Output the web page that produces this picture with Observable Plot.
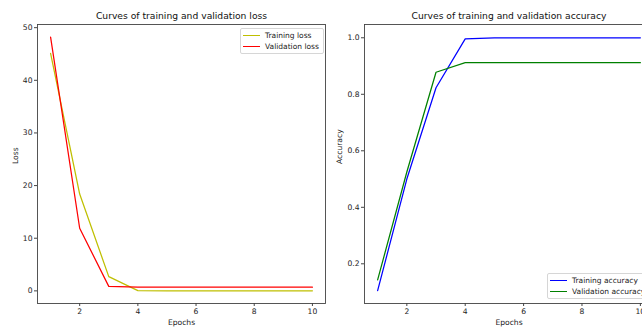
<!DOCTYPE html>
<html>
<head>
<meta charset="utf-8">
<script src="https://cdn.jsdelivr.net/npm/d3@7"></script>
<script src="https://cdn.jsdelivr.net/npm/@observablehq/plot@0.6"></script>
<style>
  html, body { margin: 0; padding: 0; background: #fff; overflow: hidden; }
  #wrap { position: relative; width: 642px; height: 327px; overflow: hidden; font-family: "DejaVu Sans", sans-serif; }
  .panel { position: absolute; top: 0; width: 330px; height: 327px; }
  .panel svg { max-width: none !important; }
  .legend { position: absolute; background: rgba(255,255,255,0.8); border: 1px solid #d6d6d6; border-radius: 2px; font-size: 7.5px; color: #222; padding: 1px 0; white-space: nowrap; }
  .legend .row { display: flex; align-items: center; height: 11px; }
  .legend .sw { width: 17px; height: 0; margin-left: 2px; margin-right: 5px; }
</style>
</head>
<body>
<div id="wrap"></div>
<script>
const epochs = [1, 2, 3, 4, 5, 6, 7, 8, 9, 10];
const trainingLoss = [45.1, 18.4, 2.7, 0.05, 0.02, 0.01, 0.01, 0.01, 0.01, 0.01];
const validationLoss = [48.2, 11.9, 0.85, 0.7, 0.7, 0.7, 0.7, 0.7, 0.7, 0.7];
const trainingAcc = [0.105, 0.5, 0.823, 0.996, 1.0, 1.0, 1.0, 1.0, 1.0, 1.0];
const validationAcc = [0.143, 0.525, 0.878, 0.912, 0.912, 0.912, 0.912, 0.912, 0.912, 0.912];
const xTicks = [2, 4, 6, 8, 10];
const lossTicks = [0, 10, 20, 30, 40, 50];
const accTicks = [0.2, 0.4, 0.6, 0.8, 1.0];

const FONT = "DejaVu Sans";
const wrap = document.getElementById("wrap");

function rows(values, series) {
  return epochs.map((e, i) => ({epoch: e, value: values[i], series}));
}

function panel({left, width, marginLeft, marginRight, yDomain, yTicks, yFormat, series, title, ylabel, ylabelDx, legendPos}) {
  const data = series.flatMap(s => rows(s.values, s.name));
  const plot = Plot.plot({
    width, height: 327,
    marginLeft, marginRight, marginTop: 24, marginBottom: 24,
    style: {fontFamily: FONT, fontSize: "7.6px", color: "#222", background: "transparent", maxWidth: "none"},
    x: {domain: [0.55, 10.45]},
    y: {domain: yDomain},
    marks: [
      Plot.frame({stroke: "#444", strokeWidth: 0.9}),
      Plot.axisX({ticks: xTicks, tickSize: 3, tickPadding: 2, fontSize: 7.6, label: null, stroke: "#444"}),
      Plot.axisY({ticks: yTicks, tickSize: 3, tickPadding: 2, fontSize: 7.6, label: null, tickFormat: yFormat, stroke: "#444"}),
      ...series.map(s => Plot.line(data.filter(d => d.series === s.name), {x: "epoch", y: "value", stroke: s.color, strokeWidth: 1.25})),
      Plot.text([title], {frameAnchor: "top", dy: -8, lineAnchor: "middle", fontSize: 9.2, fill: "#111"}),
      Plot.text(["Epochs"], {frameAnchor: "bottom", dy: 19.5, lineAnchor: "middle", fontSize: 7.6, fill: "#222"}),
      Plot.text([ylabel], {frameAnchor: "left", dx: ylabelDx, rotate: -90, lineAnchor: "middle", fontSize: 7.6, fill: "#222"})
    ]
  });
  plot.style.maxWidth = "none";
  const div = document.createElement("div");
  div.className = "panel";
  div.style.left = left + "px";
  div.appendChild(plot);
  wrap.appendChild(div);

  const lg = document.createElement("div");
  lg.className = "legend";
  lg.style.left = legendPos.left + "px";
  lg.style.top = legendPos.top + "px";
  if (legendPos.width) lg.style.width = legendPos.width + "px";
  for (const s of series) {
    const r = document.createElement("div");
    r.className = "row";
    const sw = document.createElement("span");
    sw.className = "sw";
    sw.style.borderTop = `1.4px solid ${s.color}`;
    const t = document.createElement("span");
    t.textContent = s.name;
    r.appendChild(sw); r.appendChild(t);
    lg.appendChild(r);
  }
  wrap.appendChild(lg);
}

panel({
  left: 0, width: 330, marginLeft: 37, marginRight: 5,
  yDomain: [-2.4, 50.6], yTicks: lossTicks, yFormat: d3.format("d"),
  series: [
    {name: "Training loss", values: trainingLoss, color: "#bfbf00"},
    {name: "Validation loss", values: validationLoss, color: "#ff0000"}
  ],
  title: "Curves of training and validation loss", ylabel: "Loss", ylabelDx: -22,
  legendPos: {left: 240, top: 28, width: 82}
});

panel({
  left: 330, width: 330, marginLeft: 34, marginRight: 7,
  yDomain: [0.0595, 1.047], yTicks: accTicks, yFormat: d3.format(".1f"),
  series: [
    {name: "Training accuracy", values: trainingAcc, color: "#0000ff"},
    {name: "Validation accuracy", values: validationAcc, color: "#008000"}
  ],
  title: "Curves of training and validation accuracy", ylabel: "Accuracy", ylabelDx: -25,
  legendPos: {left: 547, top: 273}
});
</script>
</body>
</html>
